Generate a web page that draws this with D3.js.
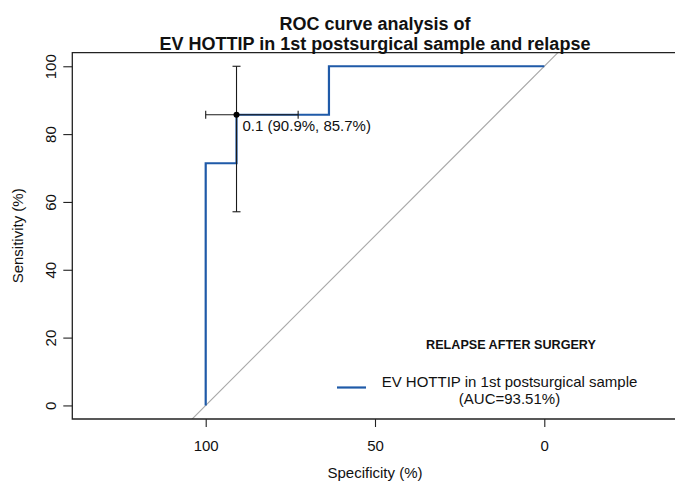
<!DOCTYPE html>
<html>
<head>
<meta charset="utf-8">
<script src="https://cdn.jsdelivr.net/npm/d3@7"></script>
<style>
  body { margin: 0; background: #fff; }
  text { font-family: "Liberation Sans", Arial, Helvetica, sans-serif; fill: #111; }
</style>
</head>
<body>
<script>
/* global d3 */

// Data
const rocSpecificity = [100, 100, 90.9, 90.9, 63.6, 63.6, 0];
const rocSensitivity = [0, 71.4, 71.4, 85.7, 85.7, 100, 100];

const bestThreshold = 0.1;
const bestSpecificity = 90.9;
const bestSensitivity = 85.7;
const ciSpecificity = [100, 72.7];
const ciSensitivity = [57.1, 100];

const xTicks = [100, 50, 0];
const yTicks = [0, 20, 40, 60, 80, 100];

const titleLines = ['ROC curve analysis of', 'EV HOTTIP in 1st postsurgical sample and relapse'];
const legendTitle = 'RELAPSE AFTER SURGERY';
const legendLines = ['EV HOTTIP in 1st postsurgical sample', '(AUC=93.51%)'];

// SVG setup
const width = 675;
const height = 482;
const plot = { left: 72.3, right: 677.7, top: 52.7, bottom: 419 };
const rocColor = '#1f5aa8';

const svg = d3.select('body')
.append('svg')
.attr('width', width)
.attr('height', height);

// Scales (specificity runs backwards, as in pROC)
const xScale = d3.scaleLinear()
.domain([139.4, -39.4])
.range([plot.left, plot.right]);

const yScale = d3.scaleLinear()
.domain([-4, 104])
.range([plot.bottom, plot.top]);

svg.append('clipPath')
.attr('id', 'plotClip')
.append('rect')
.attr('x', plot.left)
.attr('y', plot.top)
.attr('width', plot.right - plot.left)
.attr('height', plot.bottom - plot.top);

// Diagonal reference line
svg.append('line')
.attr('clip-path', 'url(#plotClip)')
.attr('x1', xScale(140))
.attr('y1', yScale(100 - 140))
.attr('x2', xScale(-40))
.attr('y2', yScale(100 + 40))
.attr('stroke', '#a8a8a8')
.attr('stroke-width', 1.1);

// ROC curve
const rocLine = d3.line()
.x(d => xScale(d[0]))
.y(d => yScale(d[1]));

svg.append('path')
.datum(d3.zip(rocSpecificity, rocSensitivity))
.attr('d', rocLine)
.attr('fill', 'none')
.attr('stroke', rocColor)
.attr('stroke-width', 2.2);

// Confidence interval bars at the best threshold
const ci = svg.append('g')
.attr('stroke', '#1a1a1a')
.attr('stroke-width', 1.1);

const cx = xScale(bestSpecificity);
const cy = yScale(bestSensitivity);
const cap = 4;

ci.append('line')
.attr('x1', cx).attr('x2', cx)
.attr('y1', yScale(ciSensitivity[0]))
.attr('y2', yScale(ciSensitivity[1]));

ciSensitivity.forEach(v => {
    ci.append('line')
    .attr('x1', cx - cap).attr('x2', cx + cap)
    .attr('y1', yScale(v)).attr('y2', yScale(v));
});

ci.append('line')
.attr('y1', cy).attr('y2', cy)
.attr('x1', xScale(ciSpecificity[0]))
.attr('x2', xScale(ciSpecificity[1]));

ciSpecificity.forEach(v => {
    ci.append('line')
    .attr('y1', cy - cap).attr('y2', cy + cap)
    .attr('x1', xScale(v)).attr('x2', xScale(v));
});

svg.append('circle')
.attr('cx', cx)
.attr('cy', cy)
.attr('r', 3)
.attr('fill', '#000');

svg.append('text')
.attr('x', cx + 6)
.attr('y', cy + 16.5)
.attr('font-size', '15px')
.text(`${bestThreshold} (${bestSpecificity}%, ${bestSensitivity}%)`);

// Plot box (right edge falls outside the window)
svg.append('path')
.attr('d', `M${plot.right},${plot.top}H${plot.left}V${plot.bottom}H${plot.right}`)
.attr('fill', 'none')
.attr('stroke', '#222')
.attr('stroke-width', 1.3);

// Axes
const xAxis = svg.append('g')
.attr('transform', `translate(0,${plot.bottom})`)
.call(d3.axisBottom(xScale).tickValues(xTicks).tickSize(8).tickPadding(13));

const yAxis = svg.append('g')
.attr('transform', `translate(${plot.left},0)`)
.call(d3.axisLeft(yScale).tickValues(yTicks).tickSize(9).tickPadding(5));

[xAxis, yAxis].forEach(axis => {
    axis.select('.domain').remove();
    axis.selectAll('line').attr('stroke', '#222').attr('stroke-width', 1.1);
    axis.selectAll('text')
    .attr('font-family', '"Liberation Sans", Arial, sans-serif')
    .attr('font-size', '15px')
    .attr('fill', '#111');
});

yAxis.selectAll('.tick text')
.attr('text-anchor', 'middle')
.attr('dy', null)
.attr('x', null)
.attr('transform', 'translate(-21.5,0) rotate(-90)')
.attr('dy', '0.35em');

// Axis titles
svg.append('text')
.attr('x', (plot.left + plot.right) / 2)
.attr('y', 478)
.attr('text-anchor', 'middle')
.attr('font-size', '15px')
.text('Specificity (%)');

svg.append('text')
.attr('transform', `translate(23,${(plot.top + plot.bottom) / 2}) rotate(-90)`)
.attr('text-anchor', 'middle')
.attr('font-size', '15px')
.text('Sensitivity (%)');

// Title
svg.selectAll('.title')
.data(titleLines)
.enter()
.append('text')
.attr('class', 'title')
.attr('x', (plot.left + plot.right) / 2)
.attr('y', (d, i) => 30 + i * 20)
.attr('text-anchor', 'middle')
.attr('font-size', '18px')
.attr('font-weight', 'bold')
.text(d => d);

// Legend
svg.append('text')
.attr('x', 511)
.attr('y', 349)
.attr('text-anchor', 'middle')
.attr('font-size', '12.6px')
.attr('font-weight', 'bold')
.text(legendTitle);

svg.append('line')
.attr('x1', 337).attr('x2', 366)
.attr('y1', 387.5).attr('y2', 387.5)
.attr('stroke', rocColor)
.attr('stroke-width', 2.2);

svg.selectAll('.legend-line')
.data(legendLines)
.enter()
.append('text')
.attr('class', 'legend-line')
.attr('x', 509.5)
.attr('y', (d, i) => 386.5 + i * 17)
.attr('text-anchor', 'middle')
.attr('font-size', '15px')
.text(d => d);
</script>
</body>
</html>
